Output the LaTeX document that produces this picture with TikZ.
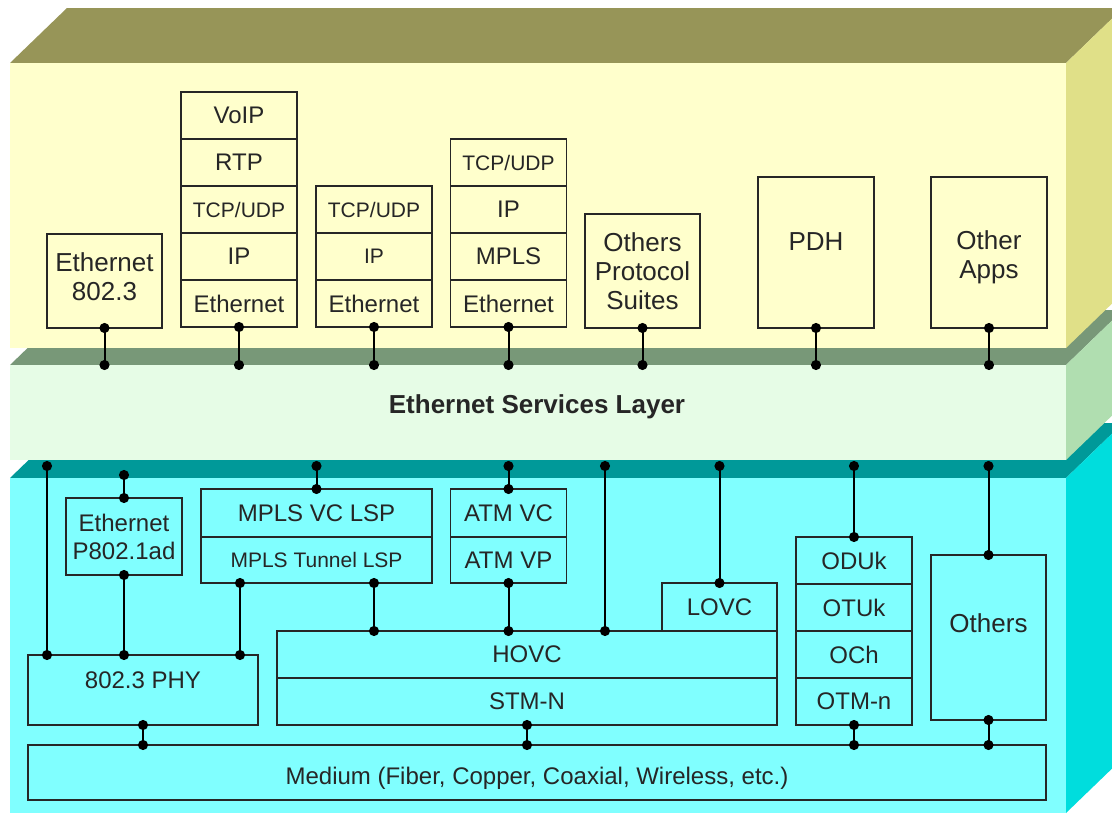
\documentclass[tikz,border=0pt]{standalone}
\usepackage{fontspec}
\setmainfont{Liberation Sans}
\usetikzlibrary{positioning, arrows.meta}

\definecolor{appfront}{HTML}{FFFFCC}
\definecolor{apptop}{HTML}{979558}
\definecolor{appside}{HTML}{E0E088}
\definecolor{eslfront}{HTML}{E6FCE6}
\definecolor{esltop}{HTML}{789878}
\definecolor{eslside}{HTML}{B0DEB0}
\definecolor{phyfront}{HTML}{80FFFF}
\definecolor{phytop}{HTML}{009999}
\definecolor{physide}{HTML}{00DDDD}
\definecolor{ink}{HTML}{262626}

% slab: x1, y1, x2, y2, front, top, side
\newcommand{\slab}[7]{%
  \fill[#6] (#1,#2) -- ++(57,-55) -- ({#3+57},{#2-55}) -- (#3,#2) -- cycle;
  \fill[#7] (#3,#2) -- ++(57,-55) -- ({#3+57},{#4-55}) -- (#3,#4) -- cycle;
  \fill[#5] (#1,#2) rectangle (#3,#4);}

\begin{document}
\begin{tikzpicture}[x=1pt, y=-1pt]
  \tikzset{
    box/.style={draw=ink, line width=1.6pt, inner sep=0pt, outer sep=0pt,
      align=center, text=ink, font=\fontsize{24}{28}\selectfont},
    cell/.style={box, minimum width=116pt, minimum height=47pt},
    big/.style={font=\fontsize{26}{29}\selectfont},
    small/.style={font=\fontsize{21}{25}\selectfont},
    link/.style={draw=black, line width=2pt,
      {Circle[length=10pt]}-{Circle[length=10pt]},
      shorten <=-5pt, shorten >=-5pt}
  }
  \path[use as bounding box] (0,0) rectangle (1112,814);
  \clip (0,0) rectangle (1112,814);

  % layers
  \slab{10}{478}{1066}{813}{phyfront}{phytop}{physide}
  \slab{10}{365}{1066}{460}{eslfront}{esltop}{eslside}
  \slab{10}{63}{1066}{348}{appfront}{apptop}{appside}

  % upper layer
  \node[box, big, text depth=8pt, minimum width=115pt, minimum height=94pt] (eth) at (104.5,281) {Ethernet\\802.3};

  \node[cell] (voip) at (239,115.5) {VoIP};
  \node[cell] (rtp) [below=0pt of voip] {RTP};
  \node[cell, small] (tcpa) [below=0pt of rtp] {TCP/UDP};
  \node[cell] (ipa) [below=0pt of tcpa] {IP};
  \node[cell] (etha) [below=0pt of ipa] {Ethernet};

  \node[cell, small] (tcpb) at (374,209.5) {TCP/UDP};
  \node[cell, small] (ipb) [below=0pt of tcpb] {IP};
  \node[cell] (ethb) [below=0pt of ipb] {Ethernet};

  \node[cell, small] (tcpc) at (508.5,162.5) {TCP/UDP};
  \node[cell] (ipc) [below=0pt of tcpc] {IP};
  \node[cell] (mplsc) [below=0pt of ipc] {MPLS};
  \node[cell] (ethc) [below=0pt of mplsc] {Ethernet};

  \node[box, big, minimum width=115pt, minimum height=114pt] (suites) at (642.5,271) {Others\\Protocol\\Suites};
  \node[box, big, minimum width=116pt, minimum height=151pt] (pdh) at (816,252.5) {PDH\\[-8pt]\mbox{}};
  \node[box, big, text height=58pt, minimum width=116pt, minimum height=151pt] (apps) at (989,252.5) {Other\\Apps};

  % middle layer
  \coordinate (esl) at (0,365);
  \node[text=ink, font=\bfseries\fontsize{26}{30}\selectfont] (esltitle) at (537,407) {Ethernet Services Layer};

  \draw[link] (eth.south) -- (eth.south |- esl);
  \draw[link] (etha.south) -- (etha.south |- esl);
  \draw[link] (ethb.south) -- (ethb.south |- esl);
  \draw[link] (ethc.south) -- (ethc.south |- esl);
  \draw[link] (suites.south) -- (suites.south |- esl);
  \draw[link] (pdh.south) -- (pdh.south |- esl);
  \draw[link] (apps.south) -- (apps.south |- esl);

  % lower layer
  \node[box, minimum width=116pt, minimum height=77pt] (qinq) at (124,536.5) {Ethernet\\P802.1ad};
  \node[box, minimum width=231pt, minimum height=48pt] (vclsp) at (316.5,513) {MPLS VC LSP};
  \node[box, small, minimum width=231pt, minimum height=46pt] (tunlsp) [below=0pt of vclsp] {MPLS Tunnel LSP};
  \node[cell, minimum height=48pt] (atmvc) at (508.5,513) {ATM VC};
  \node[cell, minimum height=46pt] (atmvp) [below=0pt of atmvc] {ATM VP};
  \node[box, minimum width=115pt, minimum height=48pt] (lovc) at (719.5,607) {LOVC};
  \node[box, minimum width=500pt, minimum height=47pt] (hovc) at (527,654.5) {HOVC};
  \node[box, minimum width=500pt, minimum height=47pt] (stm) [below=0pt of hovc] {STM-N};
  \node[box, minimum width=230pt, minimum height=70pt] (phy) at (143,690) {802.3 PHY\\[-8pt]\mbox{}};

  \node[cell] (oduk) at (854,560.5) {ODUk};
  \node[cell] (otuk) [below=0pt of oduk] {OTUk};
  \node[cell] (och) [below=0pt of otuk] {OCh};
  \node[cell] (otm) [below=0pt of och] {OTM-n};

  \node[box, big, minimum width=115pt, minimum height=165pt] (others) at (988.5,637.5) {Others\\\mbox{}};
  \node[box, text height=29pt, text depth=5pt, minimum width=1018pt, minimum height=55pt] (medium) at (537,772.5) {Medium (Fiber, Copper, Coaxial, Wireless, etc.)};

  \coordinate (bus) at (0,466);
  \coordinate (pa) at (47,466);
  \coordinate (qa) at (124,475);
  \coordinate (tx) at (240,0);
  \coordinate (hx) at (374,0);
  \coordinate (sx) at (605,0);

  \draw[link] (pa) -- (pa |- phy.north);
  \draw[link] (qa) -- (qinq.north);
  \draw[link] (qinq.south) -- (qinq.south |- phy.north);
  \draw[link] (tx |- tunlsp.south) -- (tx |- phy.north);
  \draw[link] (vclsp.north |- bus) -- (vclsp.north);
  \draw[link] (hx |- tunlsp.south) -- (hx |- hovc.north);
  \draw[link] (atmvc.north |- bus) -- (atmvc.north);
  \draw[link] (atmvp.south) -- (atmvp.south |- hovc.north);
  \draw[link] (sx |- bus) -- (sx |- hovc.north);
  \draw[link] (lovc.north |- bus) -- (lovc.north);
  \draw[link] (oduk.north |- bus) -- (oduk.north);
  \draw[link] (others.north |- bus) -- (others.north);

  \draw[link] (phy.south) -- (phy.south |- medium.north);
  \draw[link] (stm.south) -- (stm.south |- medium.north);
  \draw[link] (otm.south) -- (otm.south |- medium.north);
  \draw[link] (others.south) -- (others.south |- medium.north);
\end{tikzpicture}
\end{document}
